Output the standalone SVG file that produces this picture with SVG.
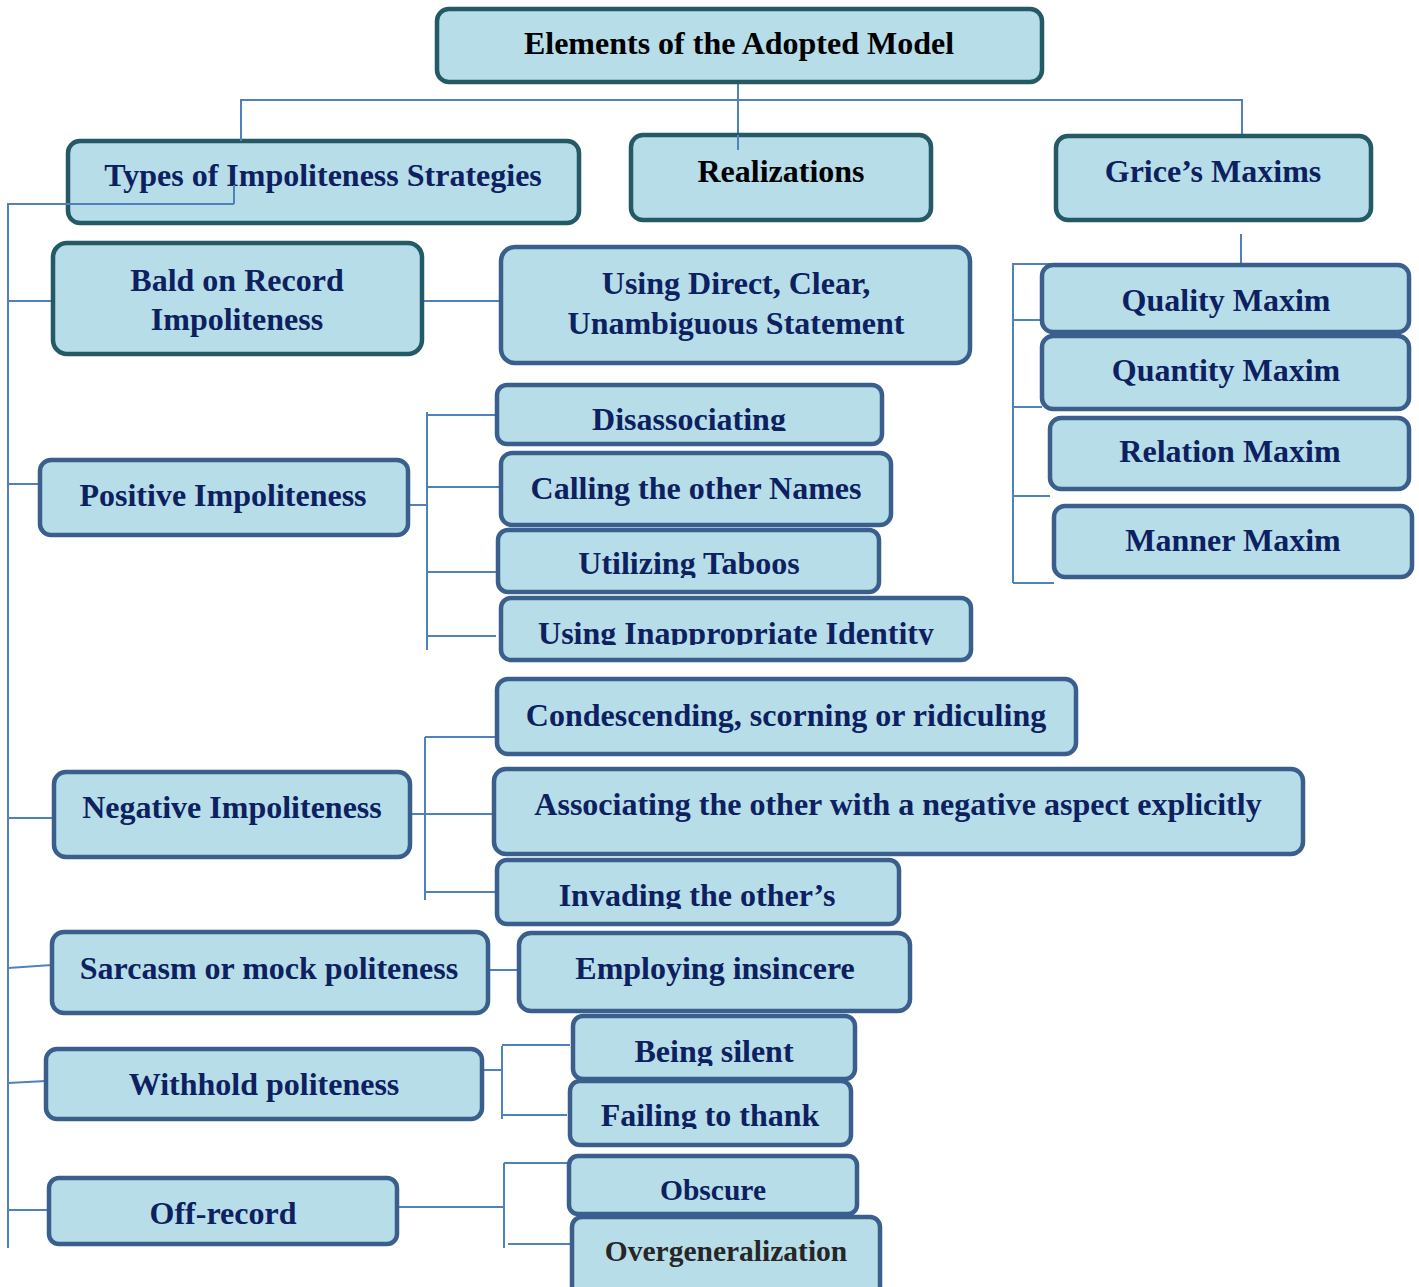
<svg xmlns="http://www.w3.org/2000/svg" width="1419" height="1287" viewBox="0 0 1419 1287">
<style>
.b{fill:#b7dde8;stroke:#3a5f8c;stroke-width:4.5}
.t{stroke:#245a66}
text{font-family:"Liberation Serif","Times New Roman",serif;font-weight:bold;font-size:32px;fill:#0d2060;text-anchor:middle}
.k{fill:#000}
.s{font-size:29.5px}
.c line,.c polyline{stroke:#4f81bd;stroke-width:2;fill:none}
</style>
<defs>
<clipPath id="c1"><rect x="0" y="0" width="1419" height="431"/></clipPath>
<clipPath id="c2"><rect x="0" y="0" width="1419" height="578"/></clipPath>
<clipPath id="c3"><rect x="0" y="0" width="1419" height="645"/></clipPath>
<clipPath id="c4"><rect x="0" y="0" width="1419" height="909"/></clipPath>
<clipPath id="c5"><rect x="0" y="0" width="1419" height="1066"/></clipPath>
<clipPath id="c6"><rect x="0" y="0" width="1419" height="1129"/></clipPath>
</defs>
<rect width="1419" height="1287" fill="#fff"/>
<g class="c">
<polyline points="241,141 241,100 1242,100 1242,135"/>
<line x1="738" y1="84" x2="738" y2="150"/>
<polyline points="234,185 234,204 8,204 8,1248"/>
<line x1="8" y1="301" x2="53" y2="301"/>
<line x1="8" y1="484" x2="40" y2="484"/>
<line x1="8" y1="818" x2="54" y2="818"/>
<line x1="8" y1="968" x2="52" y2="965"/>
<line x1="8" y1="1083" x2="46" y2="1081"/>
<line x1="8" y1="1210" x2="49" y2="1210"/>
<line x1="422" y1="301" x2="501" y2="301"/>
<line x1="408" y1="505" x2="427" y2="505"/>
<line x1="427" y1="412" x2="427" y2="650"/>
<line x1="427" y1="415" x2="497" y2="415"/>
<line x1="427" y1="487" x2="501" y2="487"/>
<line x1="427" y1="572" x2="498" y2="572"/>
<line x1="427" y1="636" x2="496" y2="636"/>
<line x1="405" y1="814" x2="494" y2="814"/>
<line x1="425" y1="737" x2="425" y2="900"/>
<line x1="425" y1="737" x2="497" y2="737"/>
<line x1="425" y1="892" x2="497" y2="892"/>
<line x1="488" y1="970" x2="519" y2="970"/>
<line x1="482" y1="1070" x2="502" y2="1070"/>
<line x1="502" y1="1046" x2="502" y2="1119"/>
<line x1="502" y1="1045" x2="570" y2="1045"/>
<line x1="502" y1="1115" x2="567" y2="1115"/>
<line x1="397" y1="1207" x2="504" y2="1207"/>
<line x1="504" y1="1163" x2="504" y2="1248"/>
<line x1="504" y1="1163" x2="570" y2="1163"/>
<line x1="508" y1="1244" x2="572" y2="1244"/>
<polyline points="1241,234 1241,264 1013,264 1013,583"/>
<line x1="1013" y1="320" x2="1042" y2="320"/>
<line x1="1013" y1="407" x2="1042" y2="407"/>
<line x1="1013" y1="496" x2="1050" y2="496"/>
<line x1="1013" y1="583" x2="1054" y2="583"/>
</g>
<g id="root"><rect class="b t" x="437" y="9" width="605" height="73" rx="12"/><text class="k" x="739" y="54">Elements of the Adopted Model</text></g>
<g id="types"><rect class="b t" x="68" y="141" width="511" height="82" rx="12"/><text x="323" y="186">Types of Impoliteness Strategies</text></g>
<g id="realizations"><rect class="b t" x="631" y="135" width="300" height="85" rx="12"/><text class="k" x="781" y="182">Realizations</text></g>
<g id="grice"><rect class="b t" x="1056" y="136" width="315" height="84" rx="12"/><text x="1213" y="182">Grice’s Maxims</text></g>
<g class="c"><line x1="234" y1="185" x2="234" y2="204"/><line x1="8" y1="204" x2="234" y2="204"/><line x1="241" y1="100" x2="241" y2="141"/><line x1="738" y1="135" x2="738" y2="150"/></g>
<g id="bald"><rect class="b t" x="53" y="243" width="369" height="111" rx="14"/><text x="237" y="291">Bald on Record</text><text x="237" y="330">Impoliteness</text></g>
<g id="direct"><rect class="b" x="501" y="247" width="469" height="116" rx="14"/><text x="736" y="294">Using Direct, Clear,</text><text x="736" y="334">Unambiguous Statement</text></g>
<g id="positive"><rect class="b" x="40" y="460" width="368" height="75" rx="11"/><text x="223" y="506">Positive Impoliteness</text></g>
<g id="disassociating"><rect class="b" x="497" y="385" width="385" height="59" rx="10"/><text x="689" y="430" clip-path="url(#c1)">Disassociating</text></g>
<g id="calling"><rect class="b" x="501" y="453" width="390" height="72" rx="11"/><text x="696" y="499">Calling the other Names</text></g>
<g id="taboos"><rect class="b" x="498" y="530" width="381" height="62" rx="10"/><text x="689" y="574" clip-path="url(#c2)">Utilizing Taboos</text></g>
<g id="identity"><rect class="b" x="501" y="598" width="470" height="62" rx="10"/><text x="736" y="644" clip-path="url(#c3)">Using Inappropriate Identity</text></g>
<g id="negative"><rect class="b" x="54" y="772" width="356" height="85" rx="12"/><text x="232" y="818">Negative Impoliteness</text></g>
<g id="condescending"><rect class="b" x="497" y="679" width="579" height="75" rx="11"/><text x="786" y="726">Condescending, scorning or ridiculing</text></g>
<g id="associating"><rect class="b" x="494" y="769" width="809" height="85" rx="12"/><text x="898" y="815">Associating the other with a negative aspect explicitly</text></g>
<g id="invading"><rect class="b" x="497" y="860" width="402" height="64" rx="10"/><text x="697" y="906" clip-path="url(#c4)">Invading the other’s</text></g>
<g id="sarcasm"><rect class="b" x="52" y="932" width="436" height="81" rx="12"/><text x="269" y="979">Sarcasm or mock politeness</text></g>
<g id="insincere"><rect class="b" x="519" y="933" width="391" height="78" rx="12"/><text x="715" y="979">Employing insincere</text></g>
<g id="withhold"><rect class="b" x="46" y="1049" width="436" height="70" rx="11"/><text x="264" y="1095">Withhold politeness</text></g>
<g id="silent"><rect class="b" x="573" y="1016" width="282" height="63" rx="10"/><text x="714" y="1062" clip-path="url(#c5)">Being silent</text></g>
<g id="thank"><rect class="b" x="570" y="1081" width="281" height="64" rx="10"/><text x="710" y="1126" clip-path="url(#c6)">Failing to thank</text></g>
<g id="offrecord"><rect class="b" x="49" y="1178" width="348" height="66" rx="10"/><text x="223" y="1224">Off-record</text></g>
<g id="obscure"><rect class="b" x="569" y="1156" width="288" height="58" rx="9"/><text class="s" x="713" y="1200">Obscure</text></g>
<g id="overgen"><rect class="b" x="572" y="1217" width="308" height="80" rx="10"/><text class="s" x="726" y="1261" style="fill:#262626">Overgeneralization</text></g>
<g id="quality"><rect class="b" x="1042" y="265" width="367" height="67" rx="11"/><text x="1226" y="311">Quality Maxim</text></g>
<g id="quantity"><rect class="b" x="1042" y="336" width="367" height="73" rx="11"/><text x="1226" y="381">Quantity Maxim</text></g>
<g id="relation"><rect class="b" x="1050" y="418" width="359" height="71" rx="11"/><text x="1230" y="462">Relation Maxim</text></g>
<g id="manner"><rect class="b" x="1054" y="506" width="358" height="71" rx="11"/><text x="1233" y="551">Manner Maxim</text></g>
</svg>
